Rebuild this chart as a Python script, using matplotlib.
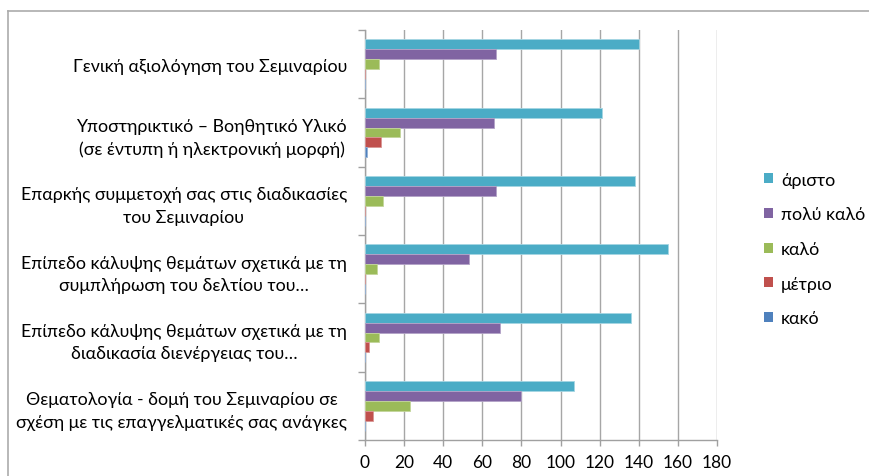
import matplotlib
matplotlib.use("Agg")
import matplotlib.pyplot as plt
import numpy as np
from matplotlib.patches import Patch
from matplotlib.lines import Line2D

plt.rcParams['font.family'] = ['Lato', 'Noto Sans', 'DejaVu Sans']

categories = [
    "Γενική αξιολόγηση του Σεμιναρίου",
    "Υποστηρικτικό – Βοηθητικό Υλικό\n(σε έντυπη ή ηλεκτρονική μορφή)",
    "Επαρκής συμμετοχή σας στις διαδικασίες\nτου Σεμιναρίου",
    "Επίπεδο κάλυψης θεμάτων σχετικά με τη\nσυμπλήρωση του δελτίου του…",
    "Επίπεδο κάλυψης θεμάτων σχετικά με τη\nδιαδικασία διενέργειας του…",
    "Θεματολογία - δομή του Σεμιναρίου σε\nσχέση με τις επαγγελματικές σας ανάγκες",
]
series_names = ["άριστο", "πολύ καλό", "καλό", "μέτριο", "κακό"]
aristo = [140, 121, 138, 155, 136, 107]
poly_kalo = [67, 66, 67, 53, 69, 80]
kalo = [7, 18, 9, 6, 7, 23]
metrio = [0, 8, 0, 0, 2, 4]
kako = [0, 1, 0, 0, 0, 0]
xticks = [0, 20, 40, 60, 80, 100, 120, 140, 160, 180]

values = [aristo, poly_kalo, kalo, metrio, kako]
colors = ["#4BACC6", "#8064A2", "#9BBB59", "#C0504D", "#4F81BD"]
edges = ["#A5D5E2", "#B3A2C7", "#C3D69B", "#D99694", "#95B3D7"]

W, H = 869, 477
fig = plt.figure(figsize=(W / 100, H / 100), dpi=100)
ax = fig.add_axes([365 / W, 1 - 441 / H, (717 - 365) / W, (441 - 31) / H])

n = len(categories)
y = np.arange(n)
bh = 0.146
for i, (vals, c, ec) in enumerate(zip(values, colors, edges)):
    off = (i - 2) * bh
    ax.barh(y + off, vals, height=bh, color=c, edgecolor=ec, linewidth=0.6, zorder=3)

ax.set_ylim(n - 0.5, -0.5)
ax.set_xlim(0, 180)
ax.set_xticks(xticks)
ax.set_xticklabels([str(t) for t in xticks], fontsize=12.5)
ax.set_yticks(y)
ax.set_yticklabels(categories, fontsize=12.8, ha='right', multialignment='center',
                   linespacing=1.5)
ax.tick_params(axis='y', length=0, pad=13)
ax.set_yticks(np.arange(-0.5, n, 1), minor=True)
ax.tick_params(axis='y', which='minor', length=5, color='#A0A0A0', width=1)
ax.tick_params(axis='x', length=4, color='#A0A0A0', width=1, pad=6)
ax.grid(axis='x', color='#A6A6A6', linewidth=1, zorder=0)
for s in ['top', 'right']:
    ax.spines[s].set_visible(False)
for s in ['left', 'bottom']:
    ax.spines[s].set_color('#A0A0A0')
    ax.spines[s].set_linewidth(1)

handles = [Patch(facecolor=c, edgecolor='none') for c in colors]
fig.legend(handles, series_names, loc='center left',
           bbox_to_anchor=(748 / W, 1 - 250 / H), frameon=False,
           fontsize=12.8, handlelength=0.5, handleheight=0.5,
           handletextpad=0.45, labelspacing=1.05)

# outer chart frame (cropped)
fig.add_artist(Line2D([8 / W, 1.0], [1 - 12 / H, 1 - 12 / H], color='#ABABAB', linewidth=1.2))
fig.add_artist(Line2D([8 / W, 8 / W], [1 - 12 / H, 0.0], color='#ABABAB', linewidth=1.2))

fig.savefig("out.png", dpi=100)
